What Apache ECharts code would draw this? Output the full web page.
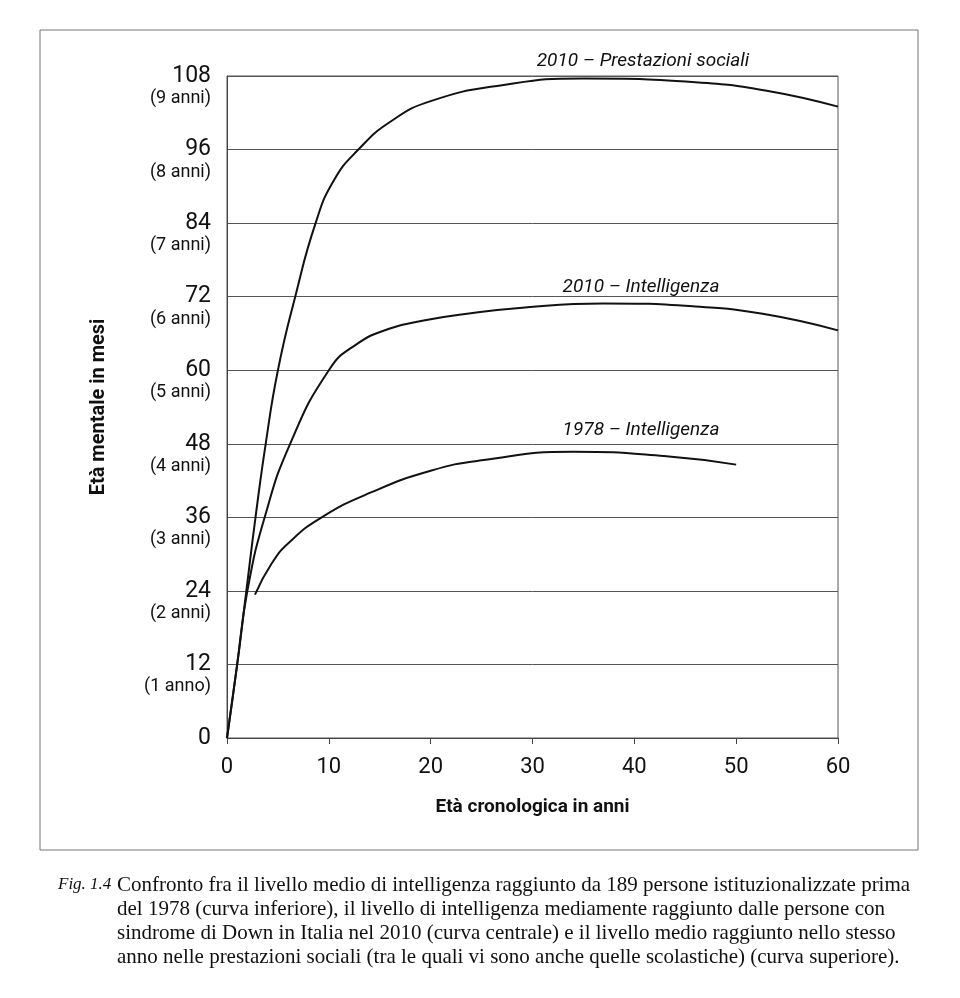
<!DOCTYPE html>
<html>
<head>
<meta charset="utf-8">
<script src="https://cdn.jsdelivr.net/npm/echarts@6/dist/echarts.min.js"></script>
<style>
html,body{margin:0;padding:0;background:#fff;}
#chart{width:960px;height:998px;}
</style>
</head>
<body>
<div id="chart"></div>
<script>
// ---- data ----
var yTicks = [0, 12, 24, 36, 48, 60, 72, 84, 96, 108];
var yTickSub = {0: ' ', 12: '(1 anno)', 24: '(2 anni)', 36: '(3 anni)', 48: '(4 anni)', 60: '(5 anni)', 72: '(6 anni)', 84: '(7 anni)', 96: '(8 anni)', 108: '(9 anni)'};
var xTicks = [0, 10, 20, 30, 40, 50, 60];

var ageSocial = [0, 1, 1.9, 2.8, 3.8, 5, 6.7, 8.7, 10.5, 12.9, 16, 20, 27, 35, 46, 53, 60];
var valSocial = [0, 12, 24, 36, 48, 60, 72, 84, 91, 96, 100.5, 103.9, 106.5, 107.6, 107, 105.6, 103];

var ageIntel2010 = [0, 1, 2, 3.7, 6.2, 10, 12.6, 16, 20, 23, 29, 37, 46, 52.6, 60];
var valIntel2010 = [0, 12, 24, 36, 48, 60, 64.1, 66.8, 68.3, 69.1, 70.2, 70.9, 70.4, 69.2, 66.5];

var ageIntel1978 = [2.75, 4.4, 6.1, 9.3, 14.2, 20, 25, 34, 42.9, 50];
var valIntel1978 = [23.4, 28.5, 31.9, 36, 40.1, 43.6, 45.3, 46.7, 46.0, 44.6];

var seriesNames = ['2010 – Prestazioni sociali', '2010 – Intelligenza', '1978 – Intelligenza'];

var captionFig = 'Fig. 1.4';
var captionLines = [
  'Confronto fra il livello medio di intelligenza raggiunto da 189 persone istituzionalizzate prima',
  'del 1978 (curva inferiore), il livello di intelligenza mediamente raggiunto dalle persone con',
  'sindrome di Down in Italia nel 2010 (curva centrale) e il livello medio raggiunto nello stesso',
  'anno nelle prestazioni sociali (tra le quali vi sono anche quelle scolastiche) (curva superiore).'
];

function pairs(xs, ys) { return xs.map(function (x, i) { return [x, ys[i]]; }); }

var sans = "'Liberation Sans Narrow', 'Roboto', sans-serif";
var chart = echarts.init(document.getElementById('chart'), null, {renderer: 'canvas'});

var lineStyle = {color: '#111', width: 2};

var graphics = [
  {type: 'rect', shape: {x: 40, y: 30, width: 878, height: 820}, style: {fill: 'none', stroke: '#777', lineWidth: 1}, silent: true},
  {type: 'text', x: 643, y: 61, style: {text: seriesNames[0], font: "italic 19px " + sans, fill: '#111', textAlign: 'center', textVerticalAlign: 'middle'}},
  {type: 'text', x: 641, y: 287, style: {text: seriesNames[1], font: "italic 19px " + sans, fill: '#111', textAlign: 'center', textVerticalAlign: 'middle'}},
  {type: 'text', x: 641, y: 430, style: {text: seriesNames[2], font: "italic 19px " + sans, fill: '#111', textAlign: 'center', textVerticalAlign: 'middle'}},
  {type: 'text', x: 58, y: 885, style: {text: captionFig, font: "italic 17px 'Liberation Serif', serif", fill: '#111', textAlign: 'left', textVerticalAlign: 'middle'}}
];
captionLines.forEach(function (t, i) {
  graphics.push({type: 'text', x: 117, y: 885 + i * 24.3, style: {text: t, font: "21px 'Liberation Serif', serif", fill: '#111', textAlign: 'left', textVerticalAlign: 'middle'}});
});

var option = {
  animation: false,
  backgroundColor: '#fff',
  grid: {left: 227, right: 122, top: 76, bottom: 260, show: true, borderColor: '#555', borderWidth: 1, backgroundColor: 'transparent'},
  xAxis: {
    type: 'value', min: 0, max: 60, interval: 10,
    name: 'Età cronologica in anni', nameLocation: 'middle', nameGap: 60,
    nameTextStyle: {fontFamily: sans, fontWeight: 'bold', fontSize: 19, color: '#111'},
    axisLine: {show: true, lineStyle: {color: '#444', width: 1}},
    axisTick: {show: true, length: 6, lineStyle: {color: '#444'}},
    axisLabel: {fontFamily: sans, fontSize: 22, color: '#111', margin: 18,
      formatter: function (v) { return xTicks.indexOf(v) >= 0 ? String(v) : ''; }},
    splitLine: {show: false}
  },
  yAxis: {
    type: 'value', min: 0, max: 108, interval: 12,
    name: 'Età mentale in mesi', nameLocation: 'middle', nameGap: 118, nameRotate: 90,
    nameTextStyle: {fontFamily: sans, fontWeight: 'bold', fontSize: 20, color: '#111'},
    axisLine: {show: true, lineStyle: {color: '#444', width: 1}},
    axisTick: {show: false},
    axisLabel: {
      margin: 16, align: 'right',
      formatter: function (v) {
        if (yTicks.indexOf(v) < 0) return '';
        return '{b| }\n{a|' + v + '}\n{b|' + yTickSub[v] + '}';
      },
      rich: {
        a: {fontFamily: sans, fontSize: 23, color: '#111', lineHeight: 24, align: 'right'},
        b: {fontFamily: sans, fontSize: 18, color: '#111', lineHeight: 21, align: 'right'}
      }
    },
    splitLine: {show: true, lineStyle: {color: '#555', width: 1}}
  },
  series: [
    {name: seriesNames[0], type: 'line', data: pairs(ageSocial, valSocial), smooth: 0.5, showSymbol: false, lineStyle: lineStyle, clip: false},
    {name: seriesNames[1], type: 'line', data: pairs(ageIntel2010, valIntel2010), smooth: 0.5, showSymbol: false, lineStyle: lineStyle, clip: false},
    {name: seriesNames[2], type: 'line', data: pairs(ageIntel1978, valIntel1978), smooth: 0.5, showSymbol: false, lineStyle: lineStyle, clip: false}
  ],
  graphic: graphics
};
chart.setOption(option);
</script>
</body>
</html>
